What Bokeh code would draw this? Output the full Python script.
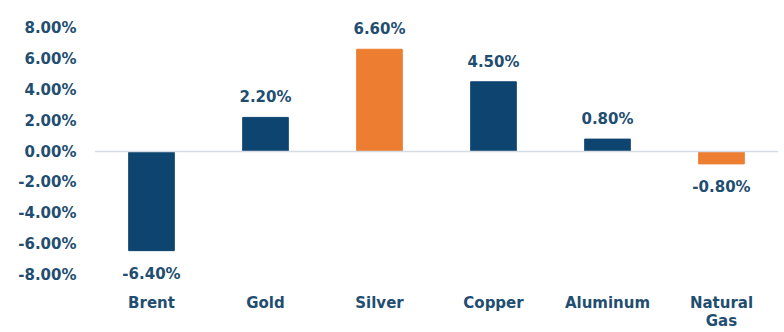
from bokeh.plotting import figure
from bokeh.models import ColumnDataSource, Range1d, FixedTicker, Span, CustomJSTickFormatter
from bokeh.core.properties import value
from bokeh.embed import file_html
from bokeh.resources import INLINE

categories = ["Brent", "Gold", "Silver", "Copper", "Aluminum", "Natural\nGas"]
values = [-6.4, 2.2, 6.6, 4.5, 0.8, -0.8]
bar_colors = ["#0E4470", "#0E4470", "#ED7D31", "#0E4470", "#0E4470", "#ED7D31"]
y_ticks = [-8, -6, -4, -2, 0, 2, 4, 6, 8]

TEXT = "#1F4E70"
FONT = "DejaVu Sans"
FS = "15px"

src = ColumnDataSource(dict(cat=categories, val=values, color=bar_colors))
pos = ColumnDataSource(dict(
    cat=[c for c, v in zip(categories, values) if v >= 0],
    val=[v for v in values if v >= 0],
    label=["%.2f%%" % v for v in values if v >= 0],
))
neg = ColumnDataSource(dict(
    cat=[c for c, v in zip(categories, values) if v < 0],
    val=[v for v in values if v < 0],
    label=["%.2f%%" % v for v in values if v < 0],
))

p = figure(x_range=categories, y_range=Range1d(-8.65, 8.65), width=784, height=332,
           output_backend="svg", toolbar_location=None,
           min_border_left=94, min_border_right=6, min_border_top=17, min_border_bottom=40)
p.outline_line_color = None
p.grid.grid_line_color = None
p.background_fill_color = "white"

p.vbar(x="cat", top="val", bottom=0, width=0.4, color="color", source=src)

p.add_layout(Span(location=0, dimension="width", line_color="#D6DCE4", line_width=1.5))

p.text(x="cat", y="val", text="label", source=pos, text_align="center", text_baseline="bottom",
       y_offset=-11, text_color=TEXT, text_font=value(FONT), text_font_style="bold",
       text_font_size=FS)
p.text(x="cat", y="val", text="label", source=neg, text_align="center", text_baseline="top",
       y_offset=14, text_color=TEXT, text_font=value(FONT), text_font_style="bold",
       text_font_size=FS)

p.yaxis.ticker = FixedTicker(ticks=y_ticks)
p.yaxis.formatter = CustomJSTickFormatter(code="return tick.toFixed(2) + '%';")
p.yaxis.axis_line_color = None
p.yaxis.major_tick_line_color = None
p.yaxis.minor_tick_line_color = None
p.yaxis.major_label_standoff = 12
p.yaxis.major_label_text_font = FONT
p.yaxis.major_label_text_font_style = "bold"
p.yaxis.major_label_text_font_size = FS
p.yaxis.major_label_text_color = TEXT

p.xaxis.axis_line_color = None
p.xaxis.major_tick_line_color = None
p.xaxis.minor_tick_line_color = None
p.xaxis.major_label_standoff = 2
p.xaxis.major_label_text_font = FONT
p.xaxis.major_label_text_font_style = "bold"
p.xaxis.major_label_text_font_size = FS
p.xaxis.major_label_text_color = TEXT
p.xaxis.major_label_text_line_height = 1.0

open("out.html", "w").write(file_html(p, INLINE))
